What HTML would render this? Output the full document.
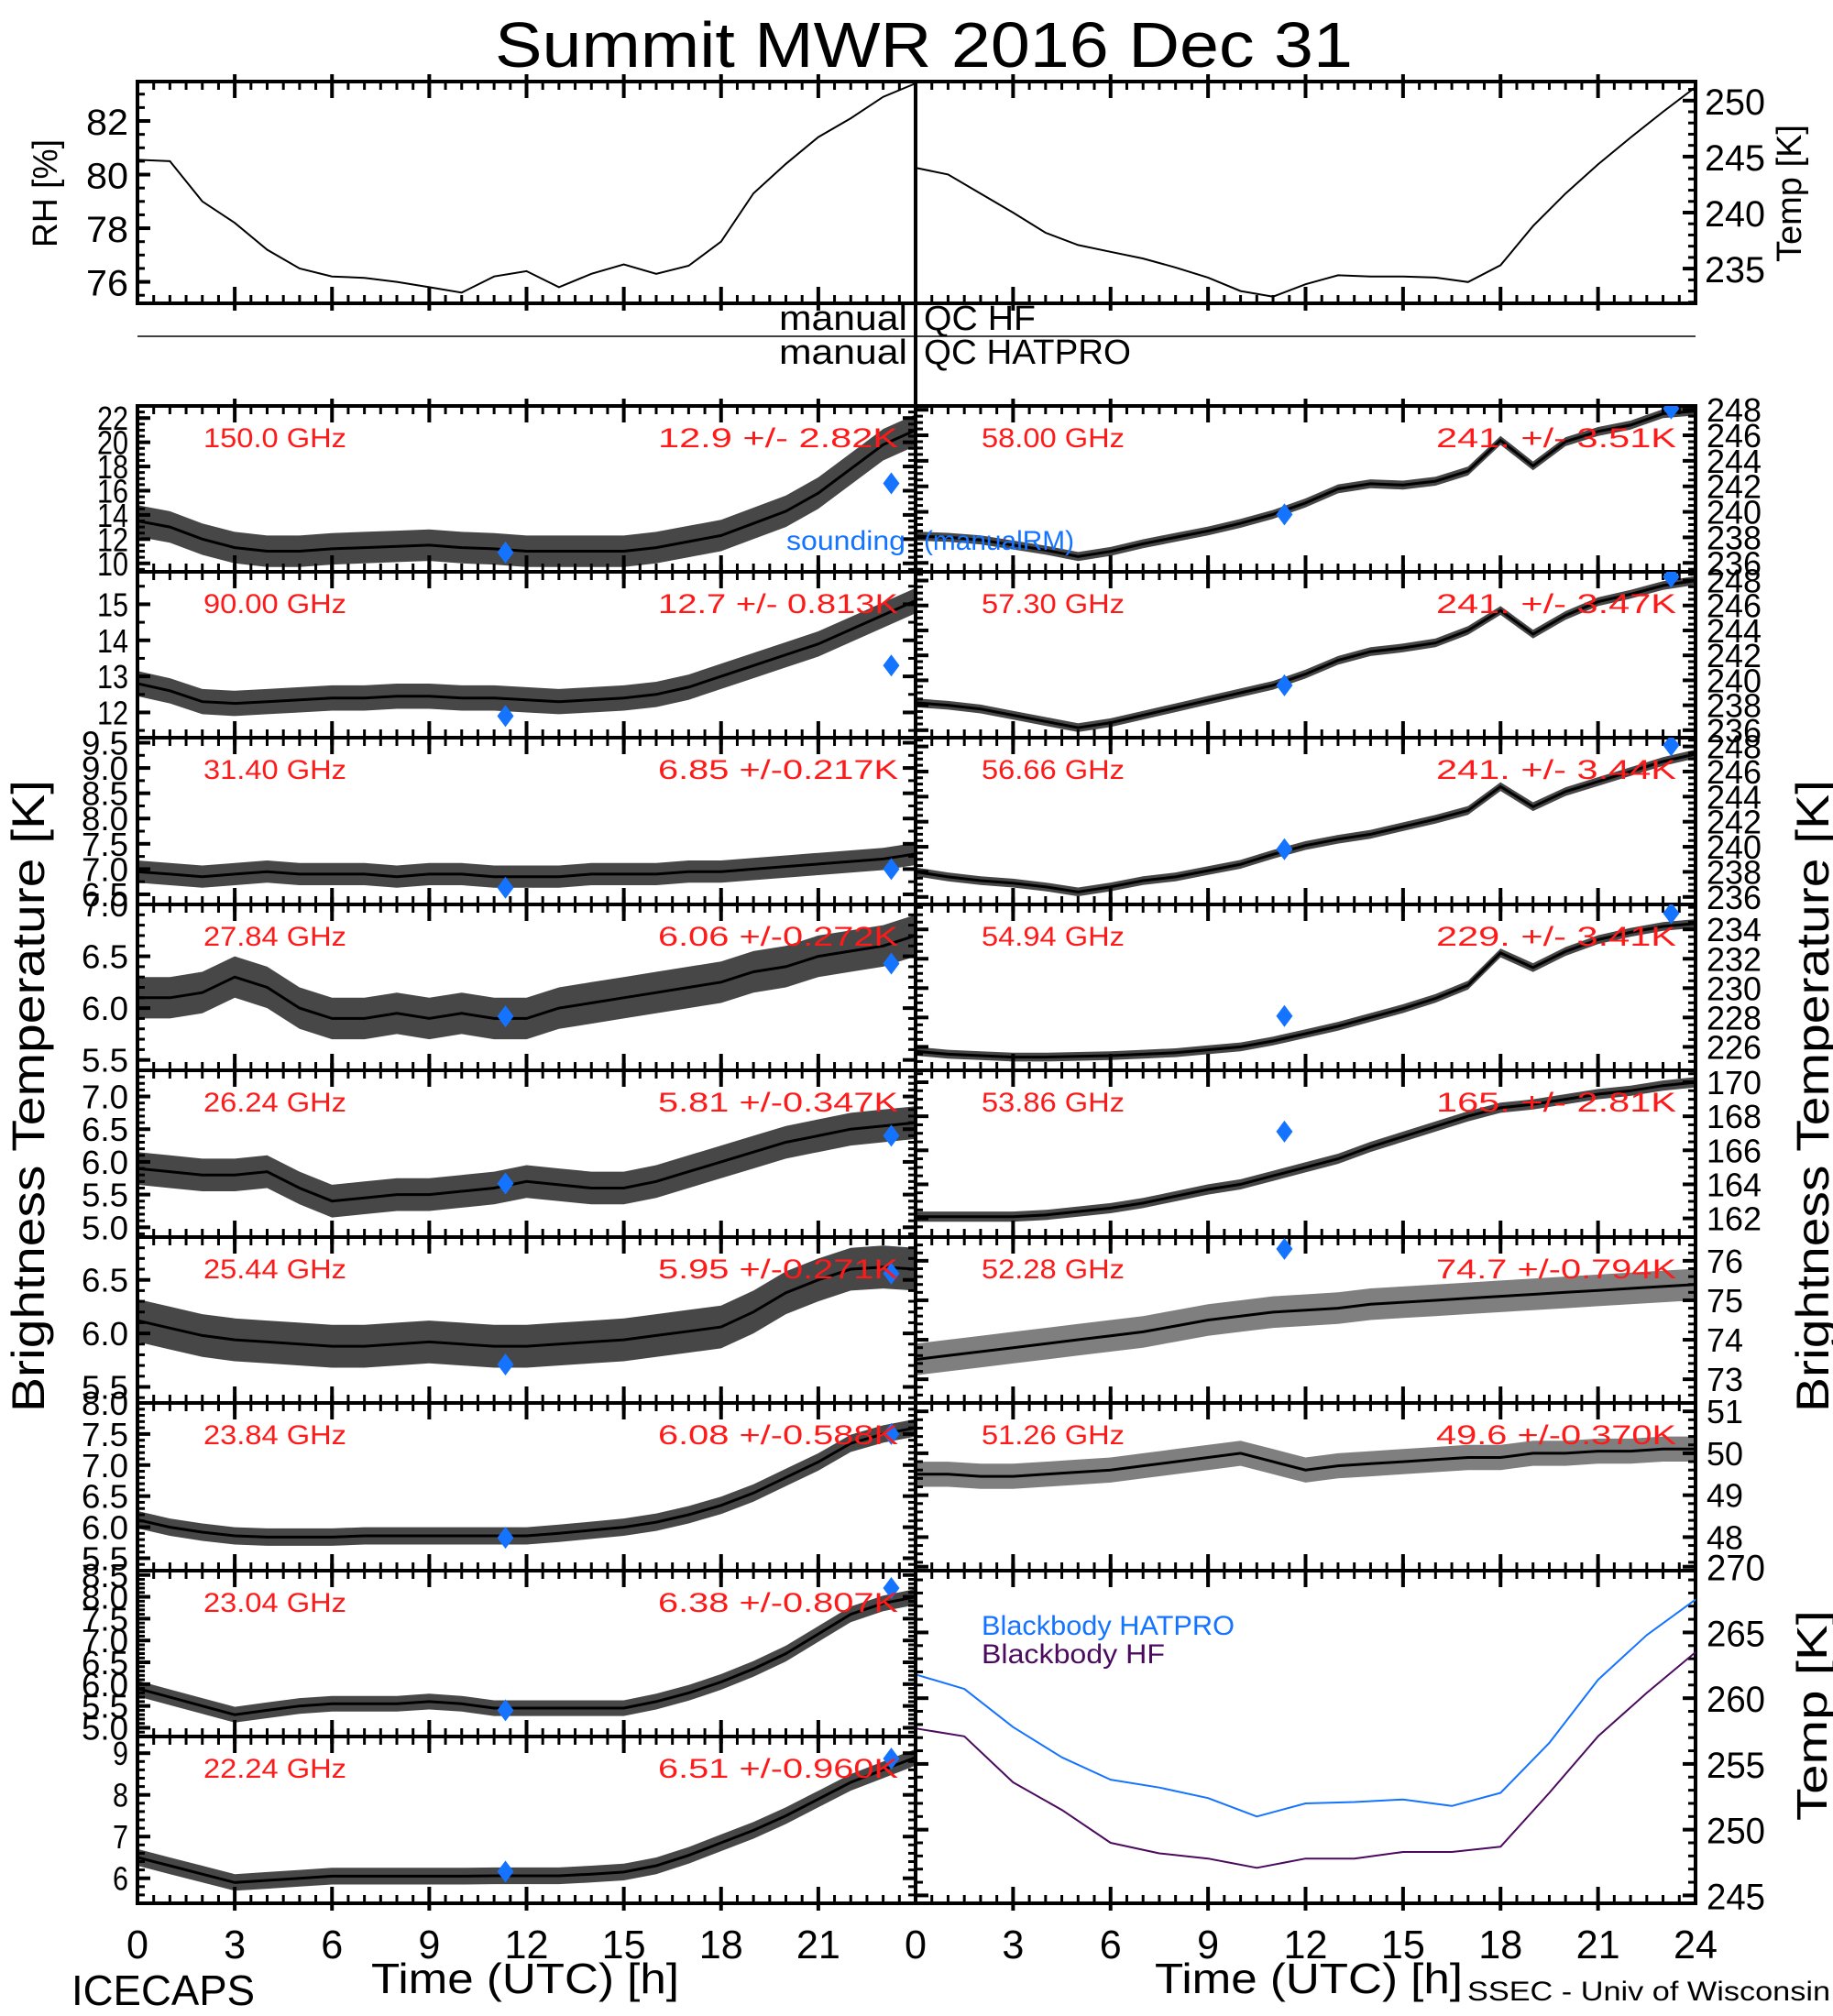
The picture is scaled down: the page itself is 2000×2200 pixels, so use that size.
<!DOCTYPE html>
<html><head><meta charset="utf-8">
<style>
html,body{margin:0;padding:0;background:#fff;}
svg{display:block;font-family:"Liberation Sans",sans-serif;}
</style></head>
<body>
<svg id="chart" width="2000" height="2200" viewBox="0 0 2000 2200" xmlns="http://www.w3.org/2000/svg">
<rect width="2000" height="2200" fill="#fff"/>
<text x="540" y="73" font-size="70" textLength="936" lengthAdjust="spacingAndGlyphs" font-weight="300">Summit  MWR  2016  Dec  31</text>
<g id="g"></g>
</svg>
<script>
// ---------- data ----------
const hours = [0,1,2,3,4,5,6,7,8,9,10,11,12,13,14,15,16,17,18,19,20,21,22,23,24];
const rhValues = [80.55,80.5,79.0,78.2,77.2,76.5,76.2,76.15,76.0,75.8,75.6,76.2,76.4,75.8,76.3,76.65,76.3,76.6,77.5,79.3,80.4,81.4,82.1,82.9,83.4];
const tempValues = [244.0,243.4,241.7,240.0,238.2,237.1,236.5,235.9,235.1,234.2,233.0,232.5,233.6,234.4,234.3,234.3,234.2,233.8,235.3,238.8,241.7,244.3,246.7,249.0,251.2];
const soundingHours = [11.35, 23.25];
const bbHours = [0,1.5,3,4.5,6,7.5,9,10.5,12,13.5,15,16.5,18,19.5,21,22.5,24];
const bbHatpro = [261.8,260.7,257.8,255.5,253.8,253.2,252.4,251.0,252.0,252.1,252.3,251.8,252.8,256.6,261.4,264.8,267.5];
const bbHF = [257.7,257.1,253.6,251.5,249.0,248.2,247.8,247.1,247.8,247.8,248.3,248.3,248.7,252.8,257.1,260.4,263.5];
const xTickLabelsLeft = ["0","3","6","9","12","15","18","21"];
const xTickLabelsRight = ["0","3","6","9","12","15","18","21","24"];

const tb150 = [13.5,13.0,12.0,11.3,11.0,11.0,11.2,11.3,11.4,11.5,11.3,11.2,11.0,11.0,11.0,11.0,11.3,11.8,12.3,13.3,14.3,15.8,17.8,19.8,21.0];
const tb90 = [12.8,12.6,12.3,12.25,12.3,12.35,12.4,12.4,12.45,12.45,12.4,12.4,12.35,12.3,12.35,12.4,12.5,12.7,13.0,13.3,13.6,13.9,14.3,14.7,15.1];
const tb3140 = [6.95,6.9,6.85,6.9,6.95,6.9,6.9,6.9,6.85,6.9,6.9,6.85,6.85,6.85,6.9,6.9,6.9,6.95,6.95,7.0,7.05,7.1,7.15,7.2,7.3];
const tb2784 = [6.1,6.1,6.15,6.3,6.2,6.0,5.9,5.9,5.95,5.9,5.95,5.9,5.9,6.0,6.05,6.1,6.15,6.2,6.25,6.35,6.4,6.5,6.55,6.6,6.7];
const tb2624 = [5.9,5.85,5.8,5.8,5.85,5.6,5.4,5.45,5.5,5.5,5.55,5.6,5.7,5.65,5.6,5.6,5.7,5.85,6.0,6.15,6.3,6.4,6.5,6.55,6.6];
const tb2544 = [6.12,6.05,5.98,5.94,5.92,5.9,5.88,5.88,5.9,5.92,5.9,5.88,5.88,5.9,5.92,5.94,5.98,6.02,6.06,6.2,6.38,6.5,6.6,6.62,6.6];
const tb2384 = [6.12,6.0,5.92,5.86,5.84,5.84,5.84,5.86,5.86,5.86,5.86,5.86,5.86,5.9,5.95,6.0,6.08,6.2,6.35,6.55,6.8,7.05,7.35,7.5,7.6];
const tb2304 = [5.9,5.7,5.5,5.3,5.4,5.5,5.55,5.55,5.55,5.6,5.55,5.45,5.45,5.45,5.45,5.45,5.6,5.8,6.05,6.35,6.7,7.15,7.6,7.85,8.0];
const tb2224 = [6.5,6.3,6.1,5.9,5.95,6.0,6.05,6.05,6.05,6.05,6.05,6.06,6.06,6.06,6.1,6.15,6.3,6.55,6.85,7.15,7.5,7.9,8.3,8.6,8.9];
const tb5800 = [238.1,238.0,237.8,237.4,237.0,236.5,236.9,237.5,238.0,238.5,239.1,239.8,240.7,241.8,242.2,242.1,242.4,243.2,245.6,243.6,245.5,246.3,246.8,247.7,247.9];
const tb5730 = [238.2,238.0,237.7,237.2,236.7,236.2,236.6,237.2,237.8,238.4,239.0,239.6,240.5,241.6,242.3,242.6,243.0,244.0,245.6,243.7,245.2,246.3,246.9,247.6,248.0];
const tb5666 = [238.0,237.6,237.3,237.1,236.8,236.4,236.8,237.3,237.6,238.1,238.6,239.4,240.1,240.6,241.0,241.6,242.2,242.9,244.8,243.2,244.4,245.2,246.0,246.8,247.4];
const tb5494 = [225.7,225.5,225.4,225.3,225.3,225.35,225.4,225.5,225.6,225.8,226.0,226.4,226.9,227.4,228.0,228.6,229.3,230.2,232.4,231.4,232.5,233.3,233.8,234.2,234.4];
const tb5386 = [162.1,162.1,162.1,162.1,162.2,162.4,162.6,162.9,163.3,163.7,164.0,164.5,165.0,165.5,166.2,166.8,167.4,168.0,168.5,168.7,169.0,169.3,169.5,169.8,170.0];
const tb5228 = [73.5,73.6,73.7,73.8,73.9,74.0,74.1,74.2,74.35,74.5,74.6,74.7,74.75,74.8,74.9,74.95,75.0,75.05,75.1,75.15,75.2,75.25,75.3,75.35,75.4];
const tb5126 = [49.5,49.5,49.45,49.45,49.5,49.55,49.6,49.7,49.8,49.9,50.0,49.8,49.6,49.7,49.75,49.8,49.85,49.9,49.9,50.0,50.0,50.05,50.05,50.1,50.1];

const snd150=[10.9,16.6], snd90=[11.9,13.3], snd3140=[6.63,7.0], snd2784=[5.92,6.43], snd2624=[5.67,6.4], snd2544=[5.71,6.56], snd2384=[5.83,7.5], snd2304=[5.4,8.2], snd2224=[6.16,8.87];
const snd5800=[239.8,248.1], snd5730=[239.6,248.3], snd5666=[239.8,248.1], snd5494=[228.1,235.1], snd5386=[167.1,null], snd5228=[76.3,null], snd5126=[null,null];

// ---------- helpers ----------
const NS="http://www.w3.org/2000/svg";
const G=document.getElementById('g');
function mk(tag,attrs,parent){const e=document.createElementNS(NS,tag);for(const k in attrs)e.setAttribute(k,attrs[k]);(parent||G).appendChild(e);return e;}
function txt(s,x,y,fs,opt){opt=opt||{};const t=mk('text',{x:x,y:y,'font-size':fs,fill:opt.fill||'#000','text-anchor':opt.anchor||'start'},opt.parent);
 if(opt.len){t.setAttribute('textLength',opt.len);t.setAttribute('lengthAdjust','spacingAndGlyphs');}
 if(opt.rot)t.setAttribute('transform','rotate(-90 '+x+' '+y+')');t.textContent=s;return t;}
const LX0=150,LX1=999,RX0=999,RX1=1850;
function xs(x0,x1){return h=>x0+(x1-x0)*h/24;}
function ysc(y0,y1,lo,hi){return v=>y1-(v-lo)/(hi-lo)*(y1-y0);}

function frame(x0,y0,x1,y1,name){
  const g=mk('g',{});
  
  
  mk('rect',{x:x0,y:y0,width:x1-x0,height:y1-y0,fill:'none',stroke:'#000','stroke-width':4},g);
  const X=xs(x0,x1);
  for(let i=1;i<48;i++){const h=i/2,x=X(h),maj=(i%6===0);
    const L=maj?18:9;
    mk('line',{x1:x,y1:y1,x2:x,y2:y1-L,stroke:'#000','stroke-width':maj?4:3},g);
    mk('line',{x1:x,y1:y0,x2:x,y2:y0+L,stroke:'#000','stroke-width':maj?4:3},g);
    if(maj){mk('line',{x1:x,y1:y1,x2:x,y2:y1+8,stroke:'#000','stroke-width':4},g);mk('line',{x1:x,y1:y0,x2:x,y2:y0-8,stroke:'#000','stroke-width':4},g);}
  }
  return g;
}
function yTicks(g,x0,x1,Y,ticks,dec,side,minorStep){
  const lo=Math.min(...ticks),hi=Math.max(...ticks);
  ticks.forEach(v=>{const y=Y(v);
    mk('line',{x1:x0,y1:y,x2:x0+14,y2:y,stroke:'#000','stroke-width':4},g);
    mk('line',{x1:x1,y1:y,x2:x1-14,y2:y,stroke:'#000','stroke-width':4},g);
    const s=v.toFixed(dec);
    const t = side==='L'? txt(s,x0-10,y+13,36,{anchor:'end',parent:g,len:s.length*17}) : txt(s,x1+12,y+13,36,{parent:g,len:s.length*20});
    
    
  });
  if(minorStep){for(let v=lo-minorStep*4;v<=hi+minorStep*4;v+=minorStep){const y=Y(v);
    if(y<=g._y0+2||y>=g._y1-2)continue;
    mk('line',{x1:x0,y1:y,x2:x0+8,y2:y,stroke:'#000','stroke-width':3},g);
    mk('line',{x1:x1,y1:y,x2:x1-8,y2:y,stroke:'#000','stroke-width':3},g);}}
}
let clipId=0;
function band(x0,y0,x1,y1,X,Y,vals,spread,name,op){
  const id='c'+(clipId++);
  const cp=mk('clipPath',{id:id});mk('rect',{x:x0,y:y0,width:x1-x0,height:y1-y0},cp);
  const up=hours.map((h,i)=>X(h)+','+Y(vals[i]+spread).toFixed(1));
  const dn=hours.map((h,i)=>X(h)+','+Y(vals[i]-spread).toFixed(1)).reverse();
  const p=mk('polygon',{points:up.concat(dn).join(' '),fill:'#000','fill-opacity':op||0.7,'clip-path':'url(#'+id+')'});
  
  
  const l=mk('polyline',{points:hours.map((h,i)=>X(h)+','+Y(vals[i]).toFixed(1)).join(' '),fill:'none',stroke:'#000','stroke-width':3,'clip-path':'url(#'+id+')'});
  
  
  return id;
}
function diamonds(X,Y,snd,clip){
  snd.forEach((v,i)=>{if(v===null)return;const x=X(soundingHours[i]),y=Y(v);
    const d=mk('polygon',{points:`${x},${y-12} ${x+9},${y} ${x},${y+12} ${x-9},${y}`,fill:'#1473ff','clip-path':'url(#'+clip+')'});
    
    
  });
}

// ---------- top panels ----------
(function(){
  const y0=89,y1=331;
  const gL=frame(LX0,y0,LX1,y1,'rh-panel');gL._y0=y0;gL._y1=y1;
  const YL=ysc(y0,y1,75.2,83.47),XL=xs(LX0,LX1);
  [76,78,80,82].forEach(v=>{const y=YL(v);
    mk('line',{x1:LX0,y1:y,x2:LX0+14,y2:y,stroke:'#000','stroke-width':4},gL);
    const t=txt(String(v),LX0-10,y+15,40,{anchor:'end',parent:gL,len:46});
    
    
  });
  for(let v=75.5;v<83.4;v+=0.5){if(v%2===0)continue;const y=YL(v);mk('line',{x1:LX0,y1:y,x2:LX0+8,y2:y,stroke:'#000','stroke-width':3},gL);}
  const rl=mk('polyline',{points:hours.map((h,i)=>XL(h)+','+YL(rhValues[i]).toFixed(1)).join(' '),fill:'none',stroke:'#000','stroke-width':2});
  
  
  const gR=frame(RX0,y0,RX1,y1,'temp-panel');
  const YR=ysc(y0,y1,231.9,251.7),XR=xs(RX0,RX1);
  [235,240,245,250].forEach(v=>{const y=YR(v);
    mk('line',{x1:RX1,y1:y,x2:RX1-14,y2:y,stroke:'#000','stroke-width':4},gR);
    const t=txt(String(v),RX1+10,y+15,40,{parent:gR,len:66});
    
    
  });
  for(let v=232;v<251.7;v+=1){if(v%5===0)continue;const y=YR(v);mk('line',{x1:RX1,y1:y,x2:RX1-8,y2:y,stroke:'#000','stroke-width':3},gR);}
  const tl=mk('polyline',{points:hours.map((h,i)=>XR(h)+','+YR(tempValues[i]).toFixed(1)).join(' '),fill:'none',stroke:'#000','stroke-width':2});
  
  
  let t=txt('RH [%]',62,211,38,{rot:true,anchor:'middle',len:118});
  t=txt('Temp [K]',1965,211,38,{rot:true,anchor:'middle',len:150});
})();

// QC rows
mk('line',{x1:150,y1:367,x2:1850,y2:367,stroke:'#000','stroke-width':1.5});
[['manual',990,360,'qc-hf-manual'],['manual',990,397,'qc-hatpro-manual']].forEach(a=>{const t=txt(a[0],a[1],a[2],38,{anchor:'end',len:140});});
let q=txt('QC  HF',1008,360,38,{len:122});
q=txt('QC  HATPRO',1008,397,38,{len:226});

// ---------- channel panels ----------
const rowY=[443,624,805,987,1168,1350,1531,1714,1895,2077];
const leftCh=[
 ['150.0 GHz','12.9 +/-  2.82K',tb150,snd150,9.3,23,[10,12,14,16,18,20,22],0,1.3,1],
 ['90.00 GHz','12.7 +/- 0.813K',tb90,snd90,11.3,15.9,[12,13,14,15],0,0.35,0.5],
 ['31.40 GHz','6.85 +/-0.217K',tb3140,snd3140,6.3,9.6,[6.5,7.0,7.5,8.0,8.5,9.0,9.5],1,0.22,0.25],
 ['27.84 GHz','6.06 +/-0.272K',tb2784,snd2784,5.4,7.0,[5.5,6.0,6.5,7.0],1,0.2,0.1],
 ['26.24 GHz','5.81 +/-0.347K',tb2624,snd2624,4.85,7.4,[5.0,5.5,6.0,6.5,7.0],1,0.25,0.1],
 ['25.44 GHz','5.95 +/-0.271K',tb2544,snd2544,5.35,6.9,[5.5,6.0,6.5],1,0.2,0.1],
 ['23.84 GHz','6.08 +/-0.588K',tb2384,snd2384,5.3,8.0,[5.5,6.0,6.5,7.0,7.5,8.0],1,0.14,0.1],
 ['23.04 GHz','6.38 +/-0.807K',tb2304,snd2304,4.8,8.6,[5.0,5.5,6.0,6.5,7.0,7.5,8.0,8.5],1,0.18,0.1],
 ['22.24 GHz','6.51 +/-0.960K',tb2224,snd2224,5.4,9.4,[6,7,8,9],0,0.2,0.2]
];
const rightCh=[
 ['58.00 GHz','241. +/- 3.51K',tb5800,snd5800,235.3,248.3,[236,238,240,242,244,246,248],0,0.35,1],
 ['57.30 GHz','241. +/- 3.47K',tb5730,snd5730,235.4,248.7,[236,238,240,242,244,246,248],0,0.35,1],
 ['56.66 GHz','241. +/- 3.44K',tb5666,snd5666,235.4,248.7,[236,238,240,242,244,246,248],0,0.35,1],
 ['54.94 GHz','229. +/- 3.41K',tb5494,snd5494,224.4,235.7,[226,228,230,232,234],0,0.3,1],
 ['53.86 GHz','165. +/- 2.81K',tb5386,snd5386,160.9,170.7,[162,164,166,168,170],0,0.3,1],
 ['52.28 GHz','74.7 +/-0.794K',tb5228,snd5228,72.4,76.6,[73,74,75,76],0,0.4,0.2],
 ['51.26 GHz','49.6 +/-0.370K',tb5126,snd5126,47.2,51.2,[48,49,50,51],0,0.3,0.2]
];
function channel(c,i,side){
  const x0=side==='L'?LX0:RX0,x1=side==='L'?LX1:RX1,y0=rowY[i],y1=rowY[i+1];
  const g=frame(x0,y0,x1,y1,'panel-'+c[0].replace(/[ .]/g,'').toLowerCase());g._y0=y0;g._y1=y1;
  const X=xs(x0,x1),Y=ysc(y0,y1,c[4],c[5]);
  yTicks(g,x0,x1,Y,c[6],c[7],side,c[9]/ (c[9]>=1?2:1));
  const op=(c[0].startsWith('52')||c[0].startsWith('51'))?0.5:0.72;
  const clip=band(x0,y0,x1,y1,X,Y,c[2],c[8],'trace-'+c[0].replace(/[ .]/g,''),op);
  diamonds(X,Y,c[3],clip);
  let t=txt(c[0],x0+72,y0+45,30,{fill:'#ff1a1a',len:156});
  t=txt(c[1],x0+830,y0+45,30,{fill:'#ff1a1a',anchor:'end',len:262});
}
leftCh.forEach((c,i)=>channel(c,i,'L'));
rightCh.forEach((c,i)=>channel(c,i,'R'));
let s=txt('sounding',988,600,30,{fill:'#1473ff',anchor:'end',len:130});
s=txt('(manualRM)',1008,600,30,{fill:'#1473ff',len:164});

// ---------- blackbody panel ----------
(function(){
  const x0=RX0,x1=RX1,y0=1714,y1=2077;
  const g=frame(x0,y0,x1,y1,'blackbody-panel');g._y0=y0;g._y1=y1;
  const X=xs(x0,x1),Y=ysc(y0,y1,244.4,269.7);
  [245,250,255,260,265,270].forEach(v=>{const y=Y(v);
    mk('line',{x1:x1,y1:y,x2:x1-14,y2:y,stroke:'#000','stroke-width':4},g);
    mk('line',{x1:x0,y1:y,x2:x0+14,y2:y,stroke:'#000','stroke-width':4},g);
    const t=txt(String(v),x1+12,y+15,40,{parent:g,len:64});
    
    
  });
  for(let v=246;v<270;v++){if(v%5===0)continue;const y=Y(v);mk('line',{x1:x1,y1:y,x2:x1-8,y2:y,stroke:'#000','stroke-width':3},g);mk('line',{x1:x0,y1:y,x2:x0+8,y2:y,stroke:'#000','stroke-width':3},g);}
  let l=mk('polyline',{points:bbHours.map((h,i)=>X(h)+','+Y(bbHatpro[i]).toFixed(1)).join(' '),fill:'none',stroke:'#1473ff','stroke-width':2,'stroke-linejoin':'round'});
  
  
  l=mk('polyline',{points:bbHours.map((h,i)=>X(h)+','+Y(bbHF[i]).toFixed(1)).join(' '),fill:'none',stroke:'#4b0a5e','stroke-width':2,'stroke-linejoin':'round'});
  
  
  let t=txt('Blackbody  HATPRO',1071,1784,30,{fill:'#1473ff',len:276});
  t=txt('Blackbody  HF',1071,1815,30,{fill:'#4b0a5e',len:200});
  t=txt('Temp [K]',1993,1872,46,{rot:true,anchor:'middle',len:230});
})();

// ---------- x axes & labels ----------
[[LX0,LX1,'left',xTickLabelsLeft],[RX0,RX1,'right',xTickLabelsRight]].forEach(a=>{const X=xs(a[0],a[1]);
  a[3].forEach((s,i)=>{const t=txt(s,X(i*3),2137,44,{anchor:'middle',len:s.length*24});
    
    });
});
let t=txt('Time  (UTC)  [h]',573,2175,46,{anchor:'middle',len:336});
t=txt('Time  (UTC)  [h]',1428,2175,46,{anchor:'middle',len:336});
t=txt('ICECAPS',78,2188,46,{len:200});
t=txt('SSEC  -  Univ  of  Wisconsin',1601,2183,30,{len:396});
t=txt('Brightness  Temperature  [K]',48,1196,50,{rot:true,anchor:'middle',len:690});
t=txt('Brightness  Temperature  [K]',1995,1196,50,{rot:true,anchor:'middle',len:690});
// center divider
mk('line',{x1:999,y1:89,x2:999,y2:2077,stroke:'#000','stroke-width':4});
</script>
</body></html>
